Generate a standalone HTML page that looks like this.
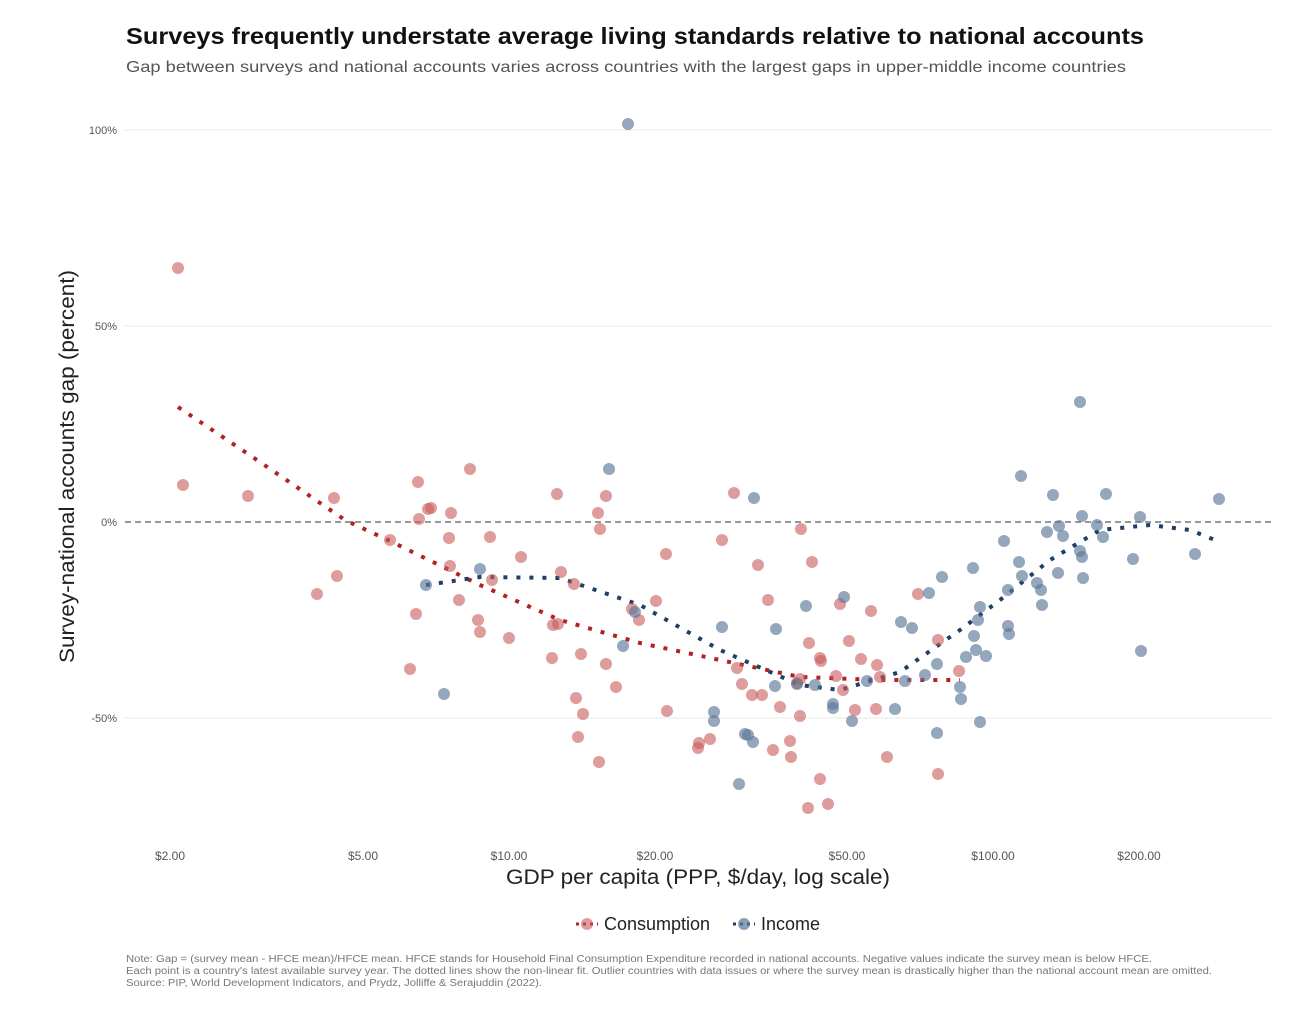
<!DOCTYPE html>
<html><head><meta charset="utf-8"><style>
body{margin:0;background:#fff;}
svg{display:block;font-family:"Liberation Sans",sans-serif;}
</style></head><body>
<svg width="1305" height="1022" viewBox="0 0 1305 1022">
<rect width="1305" height="1022" fill="#fff"/>
<text x="126" y="44" font-size="23" font-weight="bold" fill="#111" textLength="1018" lengthAdjust="spacingAndGlyphs">Surveys frequently understate average living standards relative to national accounts</text>
<text x="126" y="72" font-size="16" fill="#555" textLength="1000" lengthAdjust="spacingAndGlyphs">Gap between surveys and national accounts varies across countries with the largest gaps in upper-middle income countries</text>
<g stroke="#e8e8e8" stroke-width="1">
<line x1="125" y1="130" x2="1272" y2="130"/><line x1="125" y1="326" x2="1272" y2="326"/><line x1="125" y1="718" x2="1272" y2="718"/>
</g>
<line x1="125" y1="522" x2="1272" y2="522" stroke="#777" stroke-width="1.5" stroke-dasharray="6,4"/>
<g font-size="11" fill="#555" text-anchor="end">
<text x="117" y="134">100%</text><text x="117" y="330">50%</text><text x="117" y="526">0%</text><text x="117" y="722">-50%</text>
</g>
<g font-size="12" fill="#555" text-anchor="middle">
<text x="170" y="860">$2.00</text><text x="363" y="860">$5.00</text><text x="509" y="860">$10.00</text><text x="655" y="860">$20.00</text><text x="847" y="860">$50.00</text><text x="993" y="860">$100.00</text><text x="1139" y="860">$200.00</text>
</g>
<text x="506" y="884" font-size="21" fill="#222" textLength="384" lengthAdjust="spacingAndGlyphs">GDP per capita (PPP, $/day, log scale)</text>
<text transform="translate(74,663) rotate(-90)" font-size="21" fill="#222" textLength="393" lengthAdjust="spacingAndGlyphs">Survey-national accounts gap (percent)</text>
<polyline fill="none" stroke="#b22222" stroke-width="4" stroke-dasharray="4,9" points="178,407 260,462 345,520 390,541 480,585 560,620 640,643 720,660 800,677 880,680 960,680"/>
<polyline fill="none" stroke="#1f3f66" stroke-width="4" stroke-dasharray="4,9" points="426,585 480,577 560,578 640,605 720,650 800,685 840,690 900,672 960,630 1000,600 1050,560 1100,530 1150,525 1190,530 1220,542"/>
<g font-size="18" fill="#222">
<line x1="576" y1="924" x2="598" y2="924" stroke="#b22222" stroke-width="3" stroke-dasharray="3,4"/>
<circle cx="587" cy="924" r="6" fill="#c85a5a" fill-opacity="0.6"/>
<text x="604" y="930">Consumption</text>
<line x1="733" y1="924" x2="755" y2="924" stroke="#1f3f66" stroke-width="3" stroke-dasharray="3,4"/>
<circle cx="744" cy="924" r="6" fill="#5a7898" fill-opacity="0.7"/>
<text x="761" y="930">Income</text>
</g>
<g font-size="10" fill="#777">
<text x="126" y="962" textLength="1026" lengthAdjust="spacingAndGlyphs">Note: Gap = (survey mean - HFCE mean)/HFCE mean. HFCE stands for Household Final Consumption Expenditure recorded in national accounts. Negative values indicate the survey mean is below HFCE.</text>
<text x="126" y="974" textLength="1086" lengthAdjust="spacingAndGlyphs">Each point is a country's latest available survey year. The dotted lines show the non-linear fit. Outlier countries with data issues or where the survey mean is drastically higher than the national account mean are omitted.</text>
<text x="126" y="986" textLength="416" lengthAdjust="spacingAndGlyphs">Source: PIP, World Development Indicators, and Prydz, Jolliffe &amp; Serajuddin (2022).</text>
</g>
<g fill="#c85a5a" fill-opacity="0.6">
<circle cx="178" cy="268" r="6"/><circle cx="183" cy="485" r="6"/><circle cx="248" cy="496" r="6"/><circle cx="317" cy="594" r="6"/><circle cx="334" cy="498" r="6"/><circle cx="337" cy="576" r="6"/><circle cx="390" cy="540" r="6"/><circle cx="410" cy="669" r="6"/><circle cx="416" cy="614" r="6"/><circle cx="418" cy="482" r="6"/><circle cx="419" cy="519" r="6"/><circle cx="428" cy="509" r="6"/><circle cx="431" cy="508" r="6"/><circle cx="449" cy="538" r="6"/><circle cx="451" cy="513" r="6"/><circle cx="450" cy="566" r="6"/><circle cx="459" cy="600" r="6"/><circle cx="470" cy="469" r="6"/><circle cx="478" cy="620" r="6"/><circle cx="480" cy="632" r="6"/><circle cx="490" cy="537" r="6"/><circle cx="492" cy="580" r="6"/><circle cx="509" cy="638" r="6"/><circle cx="521" cy="557" r="6"/><circle cx="552" cy="658" r="6"/><circle cx="553" cy="625" r="6"/><circle cx="557" cy="494" r="6"/><circle cx="558" cy="624" r="6"/><circle cx="561" cy="572" r="6"/><circle cx="574" cy="584" r="6"/><circle cx="576" cy="698" r="6"/><circle cx="578" cy="737" r="6"/><circle cx="581" cy="654" r="6"/><circle cx="583" cy="714" r="6"/><circle cx="598" cy="513" r="6"/><circle cx="599" cy="762" r="6"/><circle cx="600" cy="529" r="6"/><circle cx="606" cy="496" r="6"/><circle cx="606" cy="664" r="6"/><circle cx="616" cy="687" r="6"/><circle cx="632" cy="609" r="6"/><circle cx="639" cy="620" r="6"/><circle cx="656" cy="601" r="6"/><circle cx="666" cy="554" r="6"/><circle cx="667" cy="711" r="6"/><circle cx="698" cy="748" r="6"/><circle cx="699" cy="743" r="6"/><circle cx="710" cy="739" r="6"/><circle cx="722" cy="540" r="6"/><circle cx="734" cy="493" r="6"/><circle cx="737" cy="668" r="6"/><circle cx="742" cy="684" r="6"/><circle cx="752" cy="695" r="6"/><circle cx="758" cy="565" r="6"/><circle cx="762" cy="695" r="6"/><circle cx="768" cy="600" r="6"/><circle cx="773" cy="750" r="6"/><circle cx="780" cy="707" r="6"/><circle cx="790" cy="741" r="6"/><circle cx="791" cy="757" r="6"/><circle cx="797" cy="683" r="6"/><circle cx="800" cy="679" r="6"/><circle cx="800" cy="716" r="6"/><circle cx="801" cy="529" r="6"/><circle cx="808" cy="808" r="6"/><circle cx="809" cy="643" r="6"/><circle cx="812" cy="562" r="6"/><circle cx="820" cy="779" r="6"/><circle cx="820" cy="658" r="6"/><circle cx="821" cy="661" r="6"/><circle cx="828" cy="804" r="6"/><circle cx="836" cy="676" r="6"/><circle cx="840" cy="604" r="6"/><circle cx="843" cy="690" r="6"/><circle cx="849" cy="641" r="6"/><circle cx="855" cy="710" r="6"/><circle cx="861" cy="659" r="6"/><circle cx="871" cy="611" r="6"/><circle cx="877" cy="665" r="6"/><circle cx="876" cy="709" r="6"/><circle cx="880" cy="677" r="6"/><circle cx="887" cy="757" r="6"/><circle cx="918" cy="594" r="6"/><circle cx="938" cy="640" r="6"/><circle cx="938" cy="774" r="6"/><circle cx="959" cy="671" r="6"/>
</g>
<g fill="#5a7898" fill-opacity="0.65">
<circle cx="628" cy="124" r="6"/><circle cx="609" cy="469" r="6"/><circle cx="426" cy="585" r="6"/><circle cx="444" cy="694" r="6"/><circle cx="480" cy="569" r="6"/><circle cx="623" cy="646" r="6"/><circle cx="635" cy="612" r="6"/><circle cx="714" cy="712" r="6"/><circle cx="714" cy="721" r="6"/><circle cx="722" cy="627" r="6"/><circle cx="739" cy="784" r="6"/><circle cx="745" cy="734" r="6"/><circle cx="748" cy="735" r="6"/><circle cx="753" cy="742" r="6"/><circle cx="754" cy="498" r="6"/><circle cx="775" cy="686" r="6"/><circle cx="776" cy="629" r="6"/><circle cx="797" cy="684" r="6"/><circle cx="806" cy="606" r="6"/><circle cx="815" cy="685" r="6"/><circle cx="833" cy="708" r="6"/><circle cx="833" cy="704" r="6"/><circle cx="844" cy="597" r="6"/><circle cx="852" cy="721" r="6"/><circle cx="867" cy="681" r="6"/><circle cx="895" cy="709" r="6"/><circle cx="901" cy="622" r="6"/><circle cx="905" cy="681" r="6"/><circle cx="912" cy="628" r="6"/><circle cx="925" cy="675" r="6"/><circle cx="929" cy="593" r="6"/><circle cx="937" cy="664" r="6"/><circle cx="937" cy="733" r="6"/><circle cx="942" cy="577" r="6"/><circle cx="960" cy="687" r="6"/><circle cx="961" cy="699" r="6"/><circle cx="966" cy="657" r="6"/><circle cx="973" cy="568" r="6"/><circle cx="974" cy="636" r="6"/><circle cx="976" cy="650" r="6"/><circle cx="978" cy="620" r="6"/><circle cx="980" cy="607" r="6"/><circle cx="980" cy="722" r="6"/><circle cx="986" cy="656" r="6"/><circle cx="1004" cy="541" r="6"/><circle cx="1008" cy="590" r="6"/><circle cx="1008" cy="626" r="6"/><circle cx="1009" cy="634" r="6"/><circle cx="1019" cy="562" r="6"/><circle cx="1021" cy="476" r="6"/><circle cx="1022" cy="576" r="6"/><circle cx="1037" cy="583" r="6"/><circle cx="1041" cy="590" r="6"/><circle cx="1042" cy="605" r="6"/><circle cx="1047" cy="532" r="6"/><circle cx="1053" cy="495" r="6"/><circle cx="1058" cy="573" r="6"/><circle cx="1059" cy="526" r="6"/><circle cx="1063" cy="536" r="6"/><circle cx="1080" cy="402" r="6"/><circle cx="1080" cy="551" r="6"/><circle cx="1082" cy="516" r="6"/><circle cx="1082" cy="557" r="6"/><circle cx="1083" cy="578" r="6"/><circle cx="1097" cy="525" r="6"/><circle cx="1103" cy="537" r="6"/><circle cx="1106" cy="494" r="6"/><circle cx="1133" cy="559" r="6"/><circle cx="1140" cy="517" r="6"/><circle cx="1141" cy="651" r="6"/><circle cx="1195" cy="554" r="6"/><circle cx="1219" cy="499" r="6"/>
</g>
</svg>
</body></html>
